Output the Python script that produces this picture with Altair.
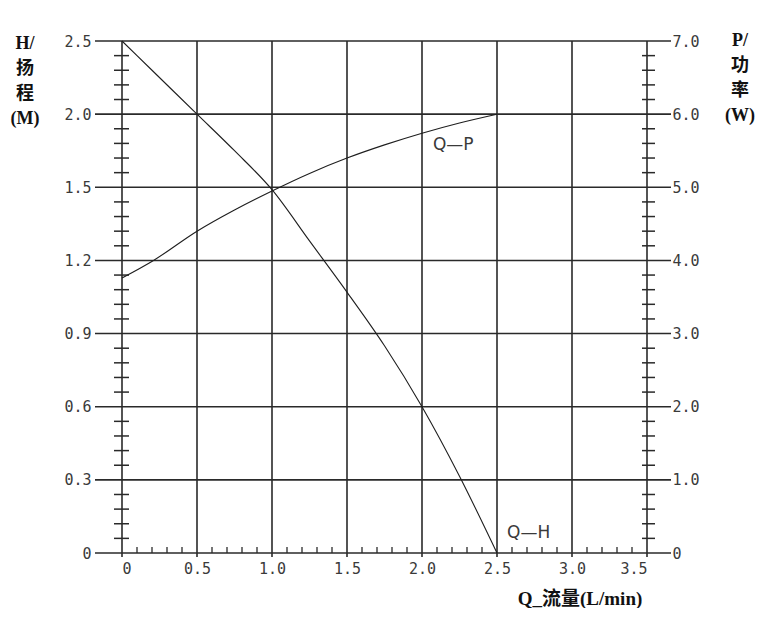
import altair as alt
import pandas as pd

# ---- data ----
q_h = [0, 0.2, 0.5, 0.75, 1.0, 1.25, 1.5, 1.75, 2.0, 2.25, 2.5]
h_m = [2.5, 2.3, 2.0, 1.75, 1.49, 1.28, 1.07, 0.85, 0.6, 0.315, 0.0]
q_p = [0, 0.21, 0.5, 0.75, 1.0, 1.25, 1.5, 1.75, 2.0, 2.25, 2.5]
p_w = [3.76, 4.0, 4.40, 4.69, 4.95, 5.19, 5.40, 5.58, 5.74, 5.88, 6.0]

q_ticks = [0, 0.5, 1.0, 1.5, 2.0, 2.5, 3.0, 3.5]
h_ticks = [0, 0.3, 0.6, 0.9, 1.2, 1.5, 2.0, 2.5]
p_ticks = [0, 1, 2, 3, 4, 5, 6, 7]

q_minor = [round(i * 0.1, 2) for i in range(36) if i % 5 != 0]
p_minor = [round(i * 0.2, 2) for i in range(36) if i % 5 != 0]

W, H = 525, 512
LINE = "#2a2a2a"
LBL = "#3a3a3a"
TICK_FONT = "DejaVu Sans Mono"
TITLE_FONT = "Liberation Serif, Noto Sans CJK SC"

x_scale = alt.Scale(domain=[0, 3.5], nice=False, zero=False)
p_scale = alt.Scale(domain=[0, 7], nice=False, zero=False)
h_scale = alt.Scale(domain=[0, 1.5, 2.5], range=[H, H * 2 / 7, 0], nice=False, zero=False)

lbl_expr = "datum.value == 0 ? '0' : format(datum.value, '.1f')"

x_axis = alt.Axis(
    orient="bottom", values=q_ticks, labelExpr=lbl_expr, domain=False, ticks=False,
    tickSize=0, grid=False, labelPadding=8, labelFont=TICK_FONT, labelFontSize=15,
    labelColor=LBL, title=None)

def X():
    return alt.X("q:Q", scale=x_scale, axis=x_axis)

# horizontal grid lines (extend beyond both axes)
hgrid = alt.Chart(pd.DataFrame({"p": p_ticks})).mark_rule(color=LINE, strokeWidth=1.6).encode(
    y=alt.Y("p:Q", scale=p_scale, axis=None),
    x=alt.value(-27), x2=alt.value(W + 24),
)

# vertical grid lines
vgrid = alt.Chart(pd.DataFrame({"q": q_ticks})).mark_rule(color=LINE, strokeWidth=1.6).encode(
    x=X(),
    y=alt.value(0), y2=alt.value(H + 4),
)

left_minor = alt.Chart(pd.DataFrame({"p": p_minor})).mark_rule(color=LINE, strokeWidth=1.5).encode(
    y=alt.Y("p:Q", scale=p_scale, axis=None),
    x=alt.value(-8), x2=alt.value(7),
)
right_minor = alt.Chart(pd.DataFrame({"p": p_minor})).mark_rule(color=LINE, strokeWidth=1.5).encode(
    y=alt.Y("p:Q", scale=p_scale, axis=None),
    x=alt.value(W - 5), x2=alt.value(W + 8),
)
bottom_minor = alt.Chart(pd.DataFrame({"q": q_minor})).mark_rule(color=LINE, strokeWidth=1.3).encode(
    x=X(),
    y=alt.value(H - 6), y2=alt.value(H),
)

h_line = alt.Chart(pd.DataFrame({"q": q_h, "h": h_m})).mark_line(
    color="#1e1e1e", strokeWidth=1.1, interpolate="monotone").encode(
    x=X(),
    y=alt.Y("h:Q", scale=h_scale, axis=alt.Axis(
        orient="left", values=h_ticks, labelExpr=lbl_expr, domain=False, ticks=False,
        tickSize=0, grid=False, labelPadding=31, labelFont=TICK_FONT, labelFontSize=15,
        labelColor=LBL, title=None)),
)

p_line = alt.Chart(pd.DataFrame({"q": q_p, "p": p_w})).mark_line(
    color="#1e1e1e", strokeWidth=1.1, interpolate="monotone").encode(
    x=X(),
    y=alt.Y("p:Q", scale=p_scale, axis=alt.Axis(
        orient="right", values=p_ticks, labelExpr=lbl_expr, domain=False, ticks=False,
        tickSize=0, grid=False, labelPadding=25, labelFont=TICK_FONT, labelFontSize=15,
        labelColor=LBL, title=None)),
)

curve_labels = alt.Chart(pd.DataFrame({
    "q": [2.073, 2.567], "p": [5.58, 0.27], "t": ["Q\u2014P", "Q\u2014H"]
})).mark_text(align="left", baseline="middle", font="DejaVu Sans", fontSize=17,
              color=LBL).encode(
    x=X(),
    y=alt.Y("p:Q", scale=p_scale, axis=None),
    text="t:N",
)

one = alt.Data(values=[{}])
left_title = alt.Chart(one).mark_text(
    text="H/\n扬\n程\n(M)", lineBreak="\n", lineHeight=25, align="center", baseline="middle",
    font=TITLE_FONT, fontSize=18, fontWeight="bold", color="#111",
).encode(x=alt.value(-97), y=alt.value(3))
right_title = alt.Chart(one).mark_text(
    text="P/\n功\n率\n(W)", lineBreak="\n", lineHeight=25, align="center", baseline="middle",
    font=TITLE_FONT, fontSize=18, fontWeight="bold", color="#111",
).encode(x=alt.value(618), y=alt.value(0))
bottom_title = alt.Chart(one).mark_text(
    text="Q_流量(L/min)", align="center", baseline="middle",
    font=TITLE_FONT, fontSize=19, fontWeight="bold", color="#111",
).encode(x=alt.value(458), y=alt.value(558))

chart = alt.layer(
    hgrid, vgrid, left_minor, right_minor, bottom_minor, h_line, p_line,
    curve_labels, left_title, right_title, bottom_title,
).resolve_scale(y="independent").properties(
    width=W, height=H,
    autosize=alt.AutoSizeParams(type="none"),
    padding={"left": 114, "top": 33, "right": 116, "bottom": 55},
    background="white",
).configure_view(stroke=None)

chart.save("out.html", embed_options={"renderer": "svg", "actions": False})
